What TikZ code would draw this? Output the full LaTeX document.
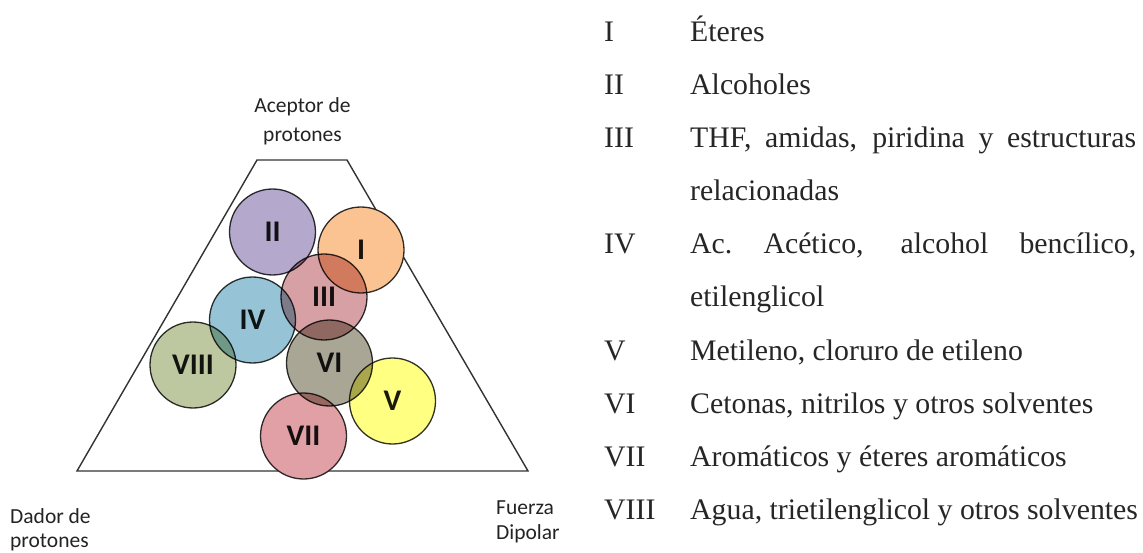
\documentclass[tikz,border=0pt]{standalone}
\usepackage{fontspec}
\setmainfont{Liberation Serif}
\newfontfamily\calfont{Carlito}
\definecolor{lineC}{RGB}{50,50,50}
\definecolor{txtC}{RGB}{35,35,35}
\definecolor{cI}{RGB}{250,195,145}
\definecolor{cII}{RGB}{180,168,205}
\definecolor{cIII}{RGB}{214,160,165}
\definecolor{cIV}{RGB}{150,196,214}
\definecolor{cV}{RGB}{255,255,130}
\definecolor{cVI}{RGB}{170,166,150}
\definecolor{cVII}{RGB}{225,160,165}
\definecolor{cVIII}{RGB}{190,200,160}
\tikzset{
  trap/.style={draw=lineC, line width=1.4pt, line join=miter},
  circ/.style={circle, draw=lineC, line width=1.3pt, minimum size=86pt, inner sep=0pt,
    font=\calfont\bfseries\fontsize{30}{32}\selectfont, text=black!90},
  axlab/.style={inner sep=0pt, font=\calfont\fontsize{21.5}{26}\selectfont, text=txtC},
  num/.style={inner sep=0pt, anchor=base west, font=\fontsize{29.8}{35}\selectfont, text=black!85},
  item/.style={inner sep=0pt, anchor=base west, font=\fontsize{29.8}{35}\selectfont, text=black!85}
}
\begin{document}
\begin{tikzpicture}[x=1pt,y=-1pt]
\useasboundingbox (0,0) rectangle (1143,553);
% trapezoid
\coordinate (tl) at (257,160);
\coordinate (tr) at (347,160);
\coordinate (br) at (528,471);
\coordinate (bl) at (77,471);
\draw[trap] (tl) -- (tr) -- (br) -- (bl) -- cycle;
% circles
\begin{scope}[blend group=multiply]
\node[circ, fill=cII]   (nII)   at (272.5,232) {II};
\node[circ, fill=cI]    (nI)    at (361,250)   {I};
\node[circ, fill=cIII]  (nIII)  at (324,297)   {III};
\node[circ, fill=cIV]   (nIV)   at (252.5,320) {IV};
\node[circ, fill=cVIII] (nVIII) at (193,365)   {VIII};
\node[circ, fill=cVI]   (nVI)   at (329.5,363) {VI};
\node[circ, fill=cV]    (nV)    at (392.5,401) {V};
\node[circ, fill=cVII]  (nVII)  at (303.5,436) {VII};
\end{scope}
% axis labels
\node[axlab, anchor=base] (acep1) at (302.5,113) {Aceptor de};
\node[axlab, anchor=base] (acep2) at (302.5,142) {protones};
\node[axlab, anchor=base west] (dad1) at (10,523) {Dador de};
\node[axlab, anchor=base west] (dad2) at (10,547) {protones};
\node[axlab, anchor=base west] (fue1) at (496,514) {Fuerza};
\node[axlab, anchor=base west] (fue2) at (496,539) {Dipolar};
% legend
\node[num] (l1) at (604,42) {I};
\node[item] (t1) at (690,42) {Éteres};
\node[num] (l2) at (604,95) {II};
\node[item] (t2) at (690,95) {Alcoholes};
\node[num] (l3) at (604,148) {III};
\node[item] (t3) at (690,148) {\makebox[446pt][s]{THF, amidas, piridina y estructuras}};
\node[item] (t3b) at (690,201) {relacionadas};
\node[num] (l4) at (604,254) {IV};
\node[item] (t4) at (690,254) {\makebox[446pt][s]{Ac.\ Acético, alcohol bencílico,}};
\node[item] (t4b) at (690,307) {etilenglicol};
\node[num] (l5) at (604,360) {V};
\node[item] (t5) at (690,360) {Metileno, cloruro de etileno};
\node[num] (l6) at (604,413) {VI};
\node[item] (t6) at (690,413) {Cetonas, nitrilos y otros solventes};
\node[num] (l7) at (604,466) {VII};
\node[item] (t7) at (690,466) {Aromáticos y éteres aromáticos};
\node[num] (l8) at (604,519) {VIII};
\node[item] (t8) at (690,519) {Agua, trietilenglicol y otros solventes};
\end{tikzpicture}
\end{document}
